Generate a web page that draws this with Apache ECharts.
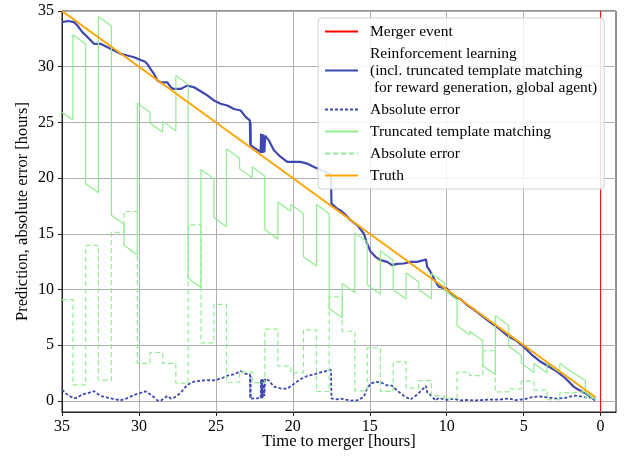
<!DOCTYPE html>
<html><head><meta charset="utf-8">
<script src="https://cdn.jsdelivr.net/npm/echarts@6/dist/echarts.min.js"></script>
<style>html,body{margin:0;padding:0;background:#fff}#c{width:629px;height:460px}</style>
</head><body><div id="c"></div>
<script>
// ---- data (hours) ----
const xTicks = [0, 5, 10, 15, 20, 25, 30, 35];
const yTicks = [0, 5, 10, 15, 20, 25, 30, 35];
const mergerTime = [0, 0];
const mergerSpan = [-1, 35];
const truthTime = [35, 0.33];

// Reinforcement learning prediction (time to merger, predicted value)
const rlTime = [35.0, 34.6, 34.22, 34.0, 33.68, 33.35, 32.92, 32.49, 32.05, 31.62, 31.19, 30.75, 30.32, 29.89, 29.6, 29.46, 29.2, 29.02, 28.8, 28.59, 28.16, 27.9, 27.72, 27.29, 26.86, 26.42, 25.99, 25.56, 25.13, 24.69, 24.26, 23.83, 23.39, 23.07, 22.79, 22.77, 22.75, 22.73, 22.42, 22.09, 22.06, 22.03, 22.0, 21.97, 21.94, 21.91, 21.88, 21.85, 21.8, 21.56, 21.23, 20.79, 20.36, 19.93, 19.5, 19.07, 18.63, 18.2, 17.66, 17.52, 17.49, 17.12, 16.9, 16.58, 16.25, 15.82, 15.39, 15.2, 14.95, 14.63, 14.3, 13.87, 13.55, 13.22, 12.79, 12.36, 11.92, 11.49, 11.35, 11.27, 11.06, 10.73, 10.52, 9.97, 9.54, 9.11, 8.68, 8.24, 7.81, 7.17, 6.62, 5.97, 5.54, 5.0, 4.46, 3.92, 3.38, 2.83, 2.29, 1.75, 1.43, 1.0, 0.67, 0.35];
const rlPred = [34.0, 34.1, 34.0, 33.7, 33.1, 32.67, 32.05, 32.05, 31.75, 31.46, 31.15, 31.0, 30.85, 30.6, 30.45, 30.25, 29.7, 29.35, 28.76, 28.6, 28.6, 28.1, 28.0, 28.0, 28.3, 28.15, 27.8, 27.42, 26.97, 26.67, 26.52, 26.2, 26.07, 25.5, 25.18, 23.0, 25.0, 22.94, 22.64, 22.34, 23.98, 22.25, 23.95, 22.25, 23.9, 22.3, 23.85, 22.3, 23.8, 23.39, 22.5, 21.9, 21.45, 21.45, 21.45, 21.3, 21.0, 20.76, 20.4, 20.3, 17.71, 17.26, 17.1, 16.7, 16.22, 15.78, 15.03, 14.2, 13.4, 12.93, 12.63, 12.48, 12.19, 12.3, 12.33, 12.48, 12.48, 12.63, 12.7, 12.04, 11.6, 10.7, 10.25, 10.05, 9.35, 9.15, 8.6, 8.2, 7.75, 7.05, 6.51, 5.76, 5.47, 4.87, 4.12, 3.53, 3.08, 2.63, 2.03, 1.28, 0.99, 0.69, 0.39, 0.05];

// Truncated template matching: segment start times and signed offset (prediction - truth)
const tmStart = [35.00, 34.29, 33.46, 32.64, 31.79, 30.97, 30.10, 29.28, 28.46, 27.60, 26.80, 25.97, 25.13, 24.31, 23.46, 22.64, 21.82, 20.97, 20.13, 19.31, 18.46, 17.64, 16.79, 15.97, 15.17, 14.31, 13.48, 12.64, 11.82, 10.99, 10.15, 9.33, 8.50, 7.66, 6.84, 5.97, 5.15, 4.33, 3.48, 2.65, 1.80, 0.99];
const tmOffset = [-9.08, -1.43, -13.96, 1.86, -15.12, -17.0, -3.37, -4.34, -3.37, 1.6, -15.8, -5.2, -8.67, -1.67, -2.61, -1.64, -6.44, -3.11, -2.51, -6.38, -0.84, -9.34, -6.25, -0.89, -4.75, -0.86, -3.5, -1.14, -1.82, 0.45, -0.24, -2.58, -2.26, -4.5, 0.8, -1.07, -1.78, -0.97, -0.1, 0.72, 0.83, -0.24];
const tmEnd = 0.33;

// ---- build series data ----
const rlLine = rlTime.map((t, i) => [t, rlPred[i]]);
const rlErr = rlTime.map((t, i) => [t, Math.abs(rlPred[i] - t)]);
const tmLine = [], tmErr = [];
tmStart.forEach((t0, i) => {
  const t1 = i + 1 < tmStart.length ? tmStart[i + 1] : tmEnd;
  const o = tmOffset[i];
  tmLine.push([t0, t0 + o], [t1, t1 + o]);
  tmErr.push([t0, Math.abs(o)], [t1, Math.abs(o)]);
});
const truthLine = truthTime.map(t => [t, t]);
const mergerLine = mergerTime.map((t, i) => [t, mergerSpan[i]]);

const FONT = "'Liberation Serif', 'Times New Roman', serif";
const BLUE = '#3f48b0';
const GREEN = '#90ee90';

const chart = echarts.init(document.getElementById('c'), null, {renderer: 'canvas'});
chart.setOption({
  animation: false,
  backgroundColor: '#fff',
  grid: {left: 62, right: 13, top: 11, bottom: 48, show: true, borderColor: '#222', borderWidth: 1, backgroundColor: 'transparent'},
  xAxis: {
    type: 'value', min: -1, max: 35, inverse: true,
    name: 'Time to merger [hours]', nameLocation: 'middle', nameGap: 21, nameMoveOverlap: false,
    nameTextStyle: {fontFamily: FONT, fontSize: 16.5, color: '#000'},
    axisLine: {show: true, onZero: false, lineStyle: {color: '#222', width: 1}},
    axisTick: {show: true, inside: false, length: 4, customValues: xTicks, lineStyle: {color: '#222'}},
    axisLabel: {customValues: xTicks, fontFamily: FONT, fontSize: 16, color: '#000', margin: 7},
    splitLine: {show: true, lineStyle: {color: '#b0b0b0', width: 1}}
  },
  yAxis: {
    type: 'value', min: -1, max: 35,
    name: 'Prediction, absolute error [hours]', nameLocation: 'middle', nameGap: 31, nameRotate: 90, nameMoveOverlap: false,
    nameTextStyle: {fontFamily: FONT, fontSize: 16.5, color: '#000'},
    axisLine: {show: true, onZero: false, lineStyle: {color: '#222', width: 1}},
    axisTick: {show: true, inside: false, length: 4, customValues: yTicks, lineStyle: {color: '#222'}},
    axisLabel: {customValues: yTicks, fontFamily: FONT, fontSize: 16, color: '#000', margin: 8},
    splitLine: {show: true, lineStyle: {color: '#b0b0b0', width: 1}}
  },
  legend: {
    orient: 'vertical', left: 318, top: 18, selectedMode: false,
    backgroundColor: 'rgba(255,255,255,0.85)', borderColor: '#d0d0d0', borderWidth: 1, borderRadius: 4,
    padding: [5, 7, 5, 6], itemGap: 5, itemWidth: 33, itemHeight: 17,
    itemStyle: {opacity: 0},
    textStyle: {fontFamily: FONT, fontSize: 15.5, lineHeight: 17, color: '#000', padding: [0, 0, 0, 7]},
    data: ['Merger event', 'Reinforcement learning\n(incl. truncated template matching\n for reward generation, global agent)', 'Absolute error', 'Truncated template matching', 'Absolute error ', 'Truth']
  },
  series: [
    {name: 'Merger event', type: 'line', data: mergerLine, symbol: 'none', lineStyle: {color: 'red', width: 1}, itemStyle: {color: 'red'}},
    {name: 'Reinforcement learning\n(incl. truncated template matching\n for reward generation, global agent)', type: 'line', data: rlLine, symbol: 'none', lineStyle: {color: BLUE, width: 2.2}, itemStyle: {color: BLUE}},
    {name: 'Absolute error', type: 'line', data: rlErr, symbol: 'none', lineStyle: {color: BLUE, width: 1.8, type: [3, 2]}, itemStyle: {color: BLUE}},
    {name: 'Truncated template matching', type: 'line', data: tmLine, symbol: 'none', lineStyle: {color: GREEN, width: 1.2}, itemStyle: {color: GREEN}},
    {name: 'Absolute error ', type: 'line', data: tmErr, symbol: 'none', lineStyle: {color: GREEN, width: 1.2, type: [5, 3]}, itemStyle: {color: GREEN}},
    {name: 'Truth', type: 'line', data: truthLine, symbol: 'none', lineStyle: {color: 'orange', width: 2}, itemStyle: {color: 'orange'}}
  ]
});
</script></body></html>
